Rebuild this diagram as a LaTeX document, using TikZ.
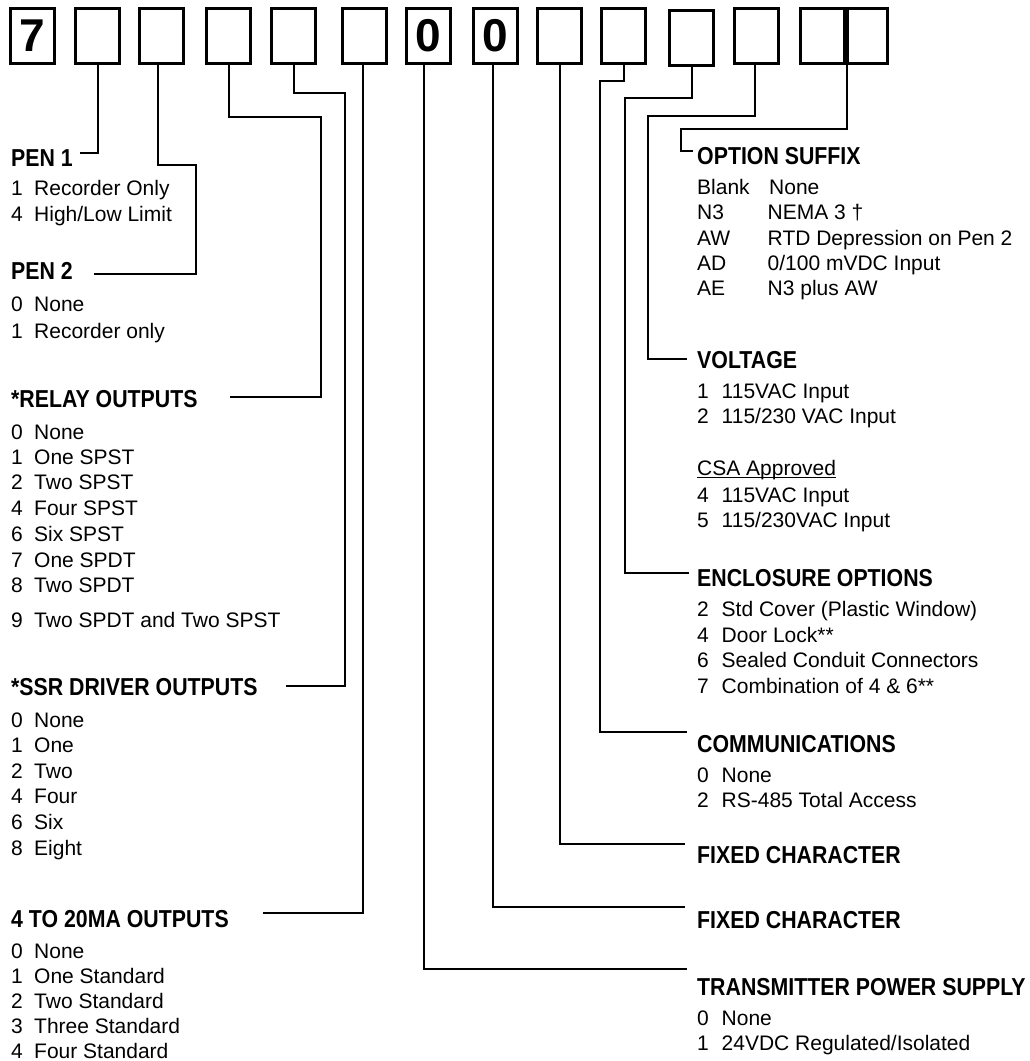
\documentclass[tikz,border=0pt]{standalone}
\usepackage{fontspec}
\setmainfont{Liberation Sans}
\newfontfamily\headfont[FakeStretch=0.87]{Liberation Sans}
\begin{document}
\begin{tikzpicture}[x=1pt,y=-1pt,
  digitbox/.style={draw, line width=2.6pt, minimum width=44.5pt, minimum height=55.5pt,
    inner sep=0pt, font=\bfseries\fontsize{46}{46}\selectfont},
  narrowbox/.style={digitbox, minimum width=40.5pt},
  head/.style={font=\headfont\bfseries\fontsize{24.5}{24.5}\selectfont, inner sep=0pt, anchor=base west},
  item/.style={font=\fontsize{21}{21}\selectfont, inner sep=0pt, anchor=base west},
  conn/.style={line width=2pt}]
\fill[white] (0,0) rectangle (1029,1061);
\useasboundingbox (0,0) rectangle (1029,1061);

% code boxes
\node[digitbox] (b1) at (32.5,36) {7};
\node[digitbox] (b2) at (97.5,36) {};
\node[digitbox] (b3) at (161.5,36) {};
\node[digitbox] (b4) at (228.5,36) {};
\node[digitbox] (b5) at (293.5,36) {};
\node[digitbox] (b6) at (364.5,36) {};
\node[digitbox] (b7) at (428.5,36) {0};
\node[digitbox] (b8) at (495.5,36) {0};
\node[digitbox] (b9) at (559.5,36) {};
\node[digitbox] (b10) at (623.5,36) {};
\node[digitbox] (b11) at (691.5,38) {};
\node[digitbox] (b12) at (756.5,36) {};
\node[digitbox] (b13) at (822.5,36) {};
\node[narrowbox] (b14) at (867,36) {};

% left column
\node[head] (h1) at (11,166) {PEN 1};
\node[item] (h1a) at (11,195) {\makebox[23pt][l]{1}Recorder Only};
\node[item] (h1b) at (11,221) {\makebox[23pt][l]{4}High/Low Limit};

\node[head] (h2) at (11,279) {PEN 2};
\node[item] (h2a) at (11,311) {\makebox[23pt][l]{0}None};
\node[item] (h2b) at (11,338) {\makebox[23pt][l]{1}Recorder only};

\node[head] (h3) at (11,407) {*RELAY OUTPUTS};
\node[item] (h3a) at (11,439) {\makebox[23pt][l]{0}None};
\node[item] (h3b) at (11,464) {\makebox[23pt][l]{1}One SPST};
\node[item] (h3c) at (11,489) {\makebox[23pt][l]{2}Two SPST};
\node[item] (h3d) at (11,515) {\makebox[23pt][l]{4}Four SPST};
\node[item] (h3e) at (11,541) {\makebox[23pt][l]{6}Six SPST};
\node[item] (h3f) at (11,567) {\makebox[23pt][l]{7}One SPDT};
\node[item] (h3g) at (11,592) {\makebox[23pt][l]{8}Two SPDT};
\node[item] (h3h) at (11,627) {\makebox[23pt][l]{9}Two SPDT and Two SPST};

\node[head] (h4) at (11,695) {*SSR DRIVER OUTPUTS};
\node[item] (h4a) at (11,727) {\makebox[23pt][l]{0}None};
\node[item] (h4b) at (11,752) {\makebox[23pt][l]{1}One};
\node[item] (h4c) at (11,778) {\makebox[23pt][l]{2}Two};
\node[item] (h4d) at (11,803) {\makebox[23pt][l]{4}Four};
\node[item] (h4e) at (11,829) {\makebox[23pt][l]{6}Six};
\node[item] (h4f) at (11,855) {\makebox[23pt][l]{8}Eight};

\node[head] (h5) at (11,927) {4 TO 20MA OUTPUTS};
\node[item] (h5a) at (11,958) {\makebox[23pt][l]{0}None};
\node[item] (h5b) at (11,983) {\makebox[23pt][l]{1}One Standard};
\node[item] (h5c) at (11,1008) {\makebox[23pt][l]{2}Two Standard};
\node[item] (h5d) at (11,1033) {\makebox[23pt][l]{3}Three Standard};
\node[item] (h5e) at (11,1058) {\makebox[23pt][l]{4}Four Standard};

% right column
\node[head] (r1) at (697,164) {OPTION SUFFIX};
\node[item] (r1a) at (697,194) {\makebox[72pt][l]{Blank}None};
\node[item] (r1b) at (697,219) {\makebox[70.5pt][l]{N3}NEMA 3 †};
\node[item] (r1c) at (697,245) {\makebox[70.5pt][l]{AW}RTD Depression on Pen 2};
\node[item] (r1d) at (697,270) {\makebox[70.5pt][l]{AD}0/100 mVDC Input};
\node[item] (r1e) at (697,295) {\makebox[70.5pt][l]{AE}N3 plus AW};

\node[head] (r2) at (697,368) {VOLTAGE};
\node[item] (r2a) at (697,398) {\makebox[24.5pt][l]{1}115VAC Input};
\node[item] (r2b) at (697,423) {\makebox[24.5pt][l]{2}115/230 VAC Input};
\node[item] (r2c) at (697,475) {CSA Approved};
\draw[line width=0.9pt] ([yshift=-2pt]r2c.base west) -- ([yshift=-2pt]r2c.base east);
\node[item] (r2d) at (697,502) {\makebox[24.5pt][l]{4}115VAC Input};
\node[item] (r2e) at (697,527) {\makebox[24.5pt][l]{5}115/230VAC Input};

\node[head] (r3) at (697,586) {ENCLOSURE OPTIONS};
\node[item] (r3a) at (697,616) {\makebox[24.5pt][l]{2}Std Cover (Plastic Window)};
\node[item] (r3b) at (697,642) {\makebox[24.5pt][l]{4}Door Lock**};
\node[item] (r3c) at (697,667) {\makebox[24.5pt][l]{6}Sealed Conduit Connectors};
\node[item] (r3d) at (697,693) {\makebox[24.5pt][l]{7}Combination of 4 \& 6**};

\node[head] (r4) at (697,752) {COMMUNICATIONS};
\node[item] (r4a) at (697,782) {\makebox[24.5pt][l]{0}None};
\node[item] (r4b) at (697,807) {\makebox[24.5pt][l]{2}RS-485 Total Access};

\node[head] (r5) at (697,863) {FIXED CHARACTER};
\node[head] (r6) at (697,928) {FIXED CHARACTER};

\node[head] (r7) at (697,995) {TRANSMITTER POWER SUPPLY};
\node[item] (r7a) at (697,1025) {\makebox[24.5pt][l]{0}None};
\node[item] (r7b) at (697,1050) {\makebox[24.5pt][l]{1}24VDC Regulated/Isolated};

% connector free ends
\coordinate (e1) at (80,153);
\coordinate (e2) at (94,274);
\coordinate (e3) at (230,397);
\coordinate (e4) at (286,686);
\coordinate (e5) at (263,913);
\coordinate (e6) at (687,969);
\coordinate (e7) at (685,907);
\coordinate (e8) at (685,844);
\coordinate (e9) at (687,732);
\coordinate (e10) at (689,573);
\coordinate (e11) at (687,359);
\coordinate (e12) at (693,151);

% connectors
\draw[conn] (b2.south) |- (e1);
\draw[conn] ([xshift=-3.5pt]b3.south) |- (196,165) |- (e2);
\draw[conn] (b4.south) |- (321,117) |- (e3);
\draw[conn] (b5.south) |- (345,93) |- (e4);
\draw[conn] ([xshift=-1.5pt]b6.south) |- (e5);
\draw[conn] ([xshift=-4.5pt]b7.south) |- (e6);
\draw[conn] ([xshift=-2.5pt]b8.south) |- (e7);
\draw[conn] (b9.south) |- (e8);
\draw[conn] (b10.south) |- (600,81) |- (e9);
\draw[conn] (b11.south) |- (625,98) |- (e10);
\draw[conn] ([xshift=-1.5pt]b12.south) |- (648,116) |- (e11);
\draw[conn] ([xshift=1pt]b13.south east) |- (681,129) |- (e12);
\draw[line width=3.6pt] ([xshift=1pt]b13.north east) -- ([xshift=1pt]b13.south east);
\end{tikzpicture}
\end{document}
